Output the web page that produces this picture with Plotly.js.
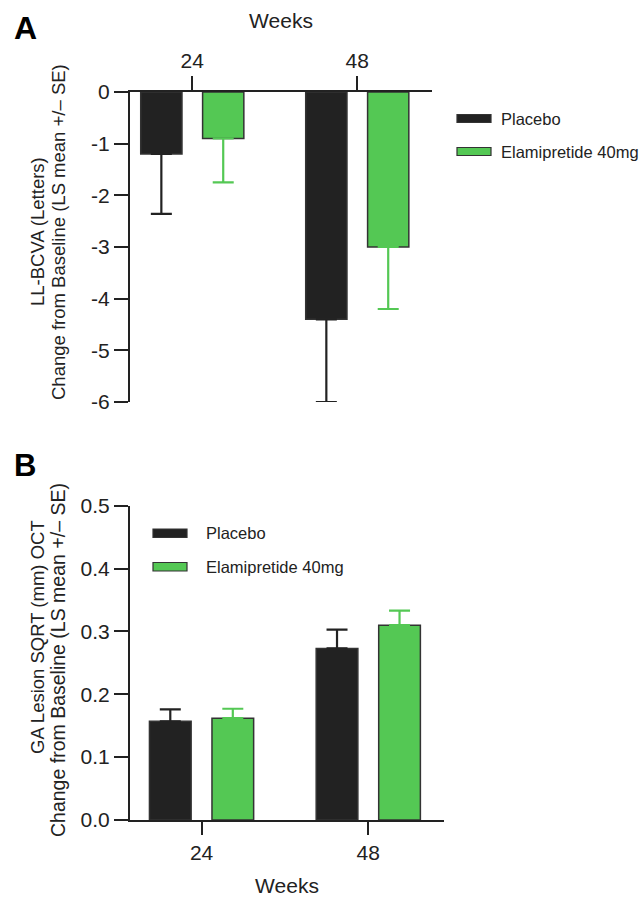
<!DOCTYPE html>
<html>
<head>
<meta charset="utf-8">
<script src="https://cdn.plot.ly/plotly-3.0.1.min.js"></script>
<style>
html, body { margin: 0; padding: 0; background: #fff; }
#chart { width: 642px; height: 897px; }
</style>
</head>
<body>
<div id="chart"></div>
<script>
// ---- data ----
const weeks = [24, 48];
const weekLabels = ['24', '48'];
const seriesNames = ['Placebo', 'Elamipretide 40mg'];

// Panel A: LL-BCVA (Letters) change from baseline
const placeboA = [-1.2, -4.4];
const placeboA_se = [1.16, 1.6];
const elamA = [-0.9, -3.0];
const elamA_se = [0.85, 1.2];
const yTicksA = [0, -1, -2, -3, -4, -5, -6];
const yTickLabelsA = ['0', '-1', '-2', '-3', '-4', '-5', '-6'];

// Panel B: GA lesion SQRT (mm) OCT change from baseline
const placeboB = [0.157, 0.273];
const placeboB_se = [0.019, 0.030];
const elamB = [0.162, 0.310];
const elamB_se = [0.015, 0.023];
const yTicksB = [0, 0.1, 0.2, 0.3, 0.4, 0.5];
const yTickLabelsB = ['0.0', '0.1', '0.2', '0.3', '0.4', '0.5'];

// ---- styling ----
const W = 642, H = 897;
const BLACK = '#222222';
const GREEN = '#54c854';
const OUTLINE = '#333333';
const FONT = 'Liberation Sans, Arial, sans-serif';
const TXT = '#222222';

const px = v => v / W;
const py = v => 1 - v / H;

function barTrace(name, x, y, se, color, offset, xa, ya, down) {
  return {
    type: 'bar', name: name, x: x, y: y,
    xaxis: xa, yaxis: ya,
    width: 6, offset: offset,
    marker: { color: color, line: { color: OUTLINE, width: 1.5 } },
    error_y: {
      type: 'data', symmetric: false,
      array: down ? [0, 0] : se,
      arrayminus: down ? se : [0, 0],
      color: color === BLACK ? BLACK : GREEN,
      thickness: 2.2, width: 10.5
    },
    showlegend: false,
    hoverinfo: 'x+y+name'
  };
}

const data = [
  barTrace(seriesNames[0], weeks, placeboA, placeboA_se, BLACK, -7.5, 'x', 'y', true),
  barTrace(seriesNames[1], weeks, elamA, elamA_se, GREEN, 1.5, 'x', 'y', true),
  barTrace(seriesNames[0], weeks, placeboB, placeboB_se, BLACK, -7.5, 'x2', 'y2', false),
  barTrace(seriesNames[1], weeks, elamB, elamB_se, GREEN, 1.5, 'x2', 'y2', false)
];

const axisCommon = {
  showline: true, linecolor: BLACK, linewidth: 2,
  ticks: 'outside', ticklen: 14, tickwidth: 2, tickcolor: BLACK,
  showgrid: false, zeroline: false,
  tickfont: { family: FONT, size: 21, color: TXT },
  fixedrange: true
};

const layout = {
  width: W, height: H,
  margin: { l: 0, r: 0, t: 0, b: 0 },
  paper_bgcolor: '#ffffff', plot_bgcolor: '#ffffff',
  barmode: 'overlay',
  font: { family: FONT, color: TXT },
  xaxis: Object.assign({}, axisCommon, {
    domain: [px(130), px(432)], anchor: 'y', side: 'top',
    range: [14.94, 58.87],
    tickmode: 'array', tickvals: weeks, ticktext: weekLabels,
    title: { text: 'Weeks', font: { family: FONT, size: 21, color: TXT }, standoff: 14 }
  }),
  yaxis: Object.assign({}, axisCommon, {
    domain: [py(402), py(92)], anchor: 'x',
    range: [-6, 0],
    tickmode: 'array', tickvals: yTicksA, ticktext: yTickLabelsA
  }),
  xaxis2: Object.assign({}, axisCommon, {
    domain: [px(130), px(444)], anchor: 'y2', side: 'bottom',
    range: [13.7, 58.9], ticklen: 13,
    tickmode: 'array', tickvals: weeks, ticktext: weekLabels,
    title: { text: 'Weeks', font: { family: FONT, size: 21, color: TXT }, standoff: 18 }
  }),
  yaxis2: Object.assign({}, axisCommon, {
    domain: [py(820), py(505.7)], anchor: 'x2',
    range: [0, 0.5],
    tickmode: 'array', tickvals: yTicksB, ticktext: yTickLabelsB
  }),
  shapes: [],
  annotations: []
};

// legend swatches (paper coords)
function swatch(x0, x1, y0, y1, color) {
  return {
    type: 'rect', xref: 'paper', yref: 'paper',
    x0: px(x0), x1: px(x1), y0: py(y1), y1: py(y0),
    fillcolor: color, line: { color: OUTLINE, width: 1.2 }
  };
}
function label(x, y, text, size, opts) {
  return Object.assign({
    xref: 'paper', yref: 'paper', x: px(x), y: py(y),
    text: text, showarrow: false,
    xanchor: 'left', yanchor: 'middle',
    font: { family: FONT, size: size, color: TXT }
  }, opts || {});
}

// Panel A legend
layout.shapes.push(swatch(457, 491, 114.5, 122.5, BLACK));
layout.shapes.push(swatch(457, 491, 147.5, 155.5, GREEN));
layout.annotations.push(label(499, 118.5, seriesNames[0], 16.5));
layout.annotations.push(label(499, 151.5, seriesNames[1], 16.5));
// Panel B legend
layout.shapes.push(swatch(153, 187, 529, 537.5, BLACK));
layout.shapes.push(swatch(153, 187, 562.5, 571, GREEN));
layout.annotations.push(label(204, 533, seriesNames[0], 16.5));
layout.annotations.push(label(204, 566.5, seriesNames[1], 16.5));

// Panel letters
layout.annotations.push(label(12, 28, '<b>A</b>', 32, { font: { family: FONT, size: 32, color: '#000' } }));
layout.annotations.push(label(12, 466, '<b>B</b>', 31, { font: { family: FONT, size: 31, color: '#000' } }));

// Y axis titles (two lines each)
const rot = { textangle: -90, xanchor: 'center', yanchor: 'middle' };
layout.annotations.push(label(37, 232, 'LL-BCVA (Letters)', 18.5, rot));
layout.annotations.push(label(58, 232, 'Change from Baseline (LS mean +/\u2013 SE)', 18.5, rot));
layout.annotations.push(label(37, 637, 'GA Lesion SQRT (mm) OCT', 18.5, rot));
layout.annotations.push(label(58, 660, 'Change from Baseline (LS mean +/\u2013 SE)', 19.5, rot));

Plotly.newPlot('chart', data, layout, { staticPlot: true, displayModeBar: false });
</script>
</body>
</html>
